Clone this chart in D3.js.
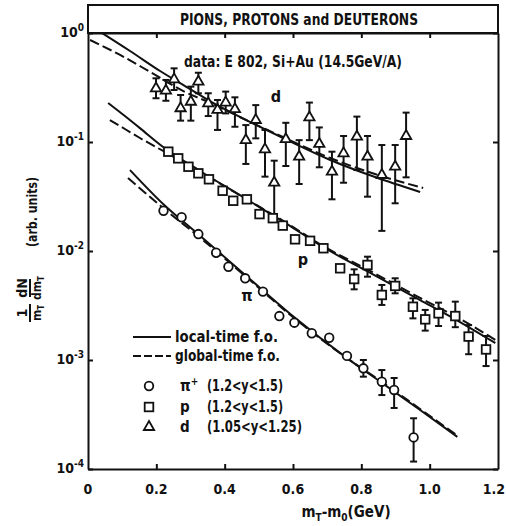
<!DOCTYPE html>
<html><head><meta charset="utf-8">
<script src="https://cdn.jsdelivr.net/npm/d3@7"></script>
<style>
html,body{margin:0;padding:0;background:#fff;}
svg text{font-family:"Liberation Sans Narrow","DejaVu Sans Condensed","Roboto Condensed","Liberation Sans",Arial,sans-serif;fill:#111;}
</style></head>
<body>
<svg id="c" width="506" height="526"></svg>
<script>
// ---------- data ----------
const xLabelValues = [0, 0.2, 0.4, 0.6, 0.8, 1.0, 1.2];
const xLabelTexts  = ["0", "0.2", "0.4", "0.6", "0.8", "1.0", "1.2"];
const xTickValues  = [0.2, 0.4, 0.6, 0.8, 1.0];
const yTickValues  = [1, 0.1, 0.01, 0.001, 0.0001];
const yTickExps    = ["0", "-1", "-2", "-3", "-4"];

// pions (pi+)
const piX = [0.221,0.274,0.323,0.375,0.411,0.460,0.512,0.560,0.604,0.655,0.706,0.758,0.806,0.860,0.896,0.953];
const piY = [0.0234,0.0204,0.0143,0.00964,0.00717,0.00562,0.00424,0.00253,0.00220,0.00176,0.00160,0.00109,0.000839,0.000632,0.000531,0.000195];
const piErrHi = [null,null,null,null,null,null,null,null,null,null,null,null,0.00100,0.000809,0.000684,0.000292];
const piErrLo = [null,null,null,null,null,null,null,null,null,null,null,null,0.000703,0.000477,0.000363,0.000117];

// protons
const pX = [0.235,0.264,0.294,0.323,0.354,0.394,0.425,0.465,0.502,0.541,0.570,0.606,0.650,0.689,0.738,0.779,0.818,0.860,0.899,0.951,0.987,1.026,1.075,1.114,1.165];
const pY = [0.0815,0.0708,0.0593,0.0516,0.0455,0.0357,0.0289,0.0298,0.0218,0.0200,0.0171,0.0128,0.0124,0.0106,0.00694,0.00553,0.00744,0.00395,0.00478,0.00308,0.00236,0.00268,0.00253,0.00164,0.00125];
const pErrHi = [null,null,null,null,null,null,null,null,null,null,null,null,null,null,null,0.00679,0.00887,0.00488,0.00562,0.00368,0.00288,0.00336,0.00343,0.00209,0.00166];
const pErrLo = [null,null,null,null,null,null,null,null,null,null,null,null,null,null,null,0.00445,0.00581,0.00320,0.00409,0.00241,0.00186,0.00205,0.00200,0.00113,0.00088];

// deuterons
const dX = [0.199,0.228,0.252,0.271,0.301,0.323,0.352,0.379,0.403,0.430,0.462,0.491,0.518,0.545,0.579,0.618,0.648,0.677,0.714,0.748,0.787,0.818,0.860,0.899,0.931];
const dY = [0.310,0.296,0.376,0.204,0.234,0.358,0.226,0.197,0.230,0.200,0.104,0.159,0.0857,0.0423,0.106,0.0733,0.168,0.0959,0.0534,0.0787,0.112,0.0733,0.0498,0.0594,0.1135];
const dErrHi = [0.384,0.371,0.474,0.270,0.322,0.432,0.280,0.243,0.290,0.257,0.143,0.218,0.129,0.0674,0.150,0.104,0.230,0.136,0.0815,0.1135,0.171,0.1135,0.0938,0.0938,0.186];
const dErrLo = [0.252,0.239,0.300,0.157,0.157,0.280,0.173,0.129,0.183,0.138,0.0629,0.108,0.0481,0.0192,0.0602,0.0412,0.104,0.0586,0.0298,0.0423,0.0553,0.0315,0.0153,0.0274,0.0474];

// model curves: local-time (solid) and global-time (dashed) freeze-out
const piLocalX  = [0.123,0.220,0.322,0.460,0.603,0.758,0.861,0.972,1.081];
const piLocalY  = [0.0553,0.0270,0.0143,0.00603,0.00248,0.00104,0.000615,0.000348,0.000197];
const piGlobalX = [0.117,0.220,0.322,0.460,0.603,0.758,0.861,0.972,1.075];
const piGlobalY = [0.0468,0.0248,0.01374,0.00590,0.00243,0.00104,0.000628,0.000355,0.000209];

const pLocalX  = [0.059,0.108,0.152,0.220,0.328,0.463,0.577,0.688,0.826,0.972,1.089,1.192];
const pLocalY  = [0.228,0.173,0.134,0.0900,0.0542,0.0300,0.0181,0.01088,0.00629,0.00355,0.00223,0.00143];
const pGlobalX = [0.064,0.108,0.152,0.220,0.328,0.463,0.577,0.688,0.826,0.972,1.089,1.192];
const pGlobalY = [0.159,0.1316,0.1088,0.0827,0.0531,0.0300,0.01845,0.01111,0.00656,0.00371,0.00238,0.00153];

const dLocalX  = [0.041,0.123,0.211,0.299,0.366,0.474,0.583,0.709,0.840,0.972];
const dLocalY  = [1.0,0.684,0.448,0.306,0.228,0.153,0.1043,0.0684,0.0477,0.0348];
const dGlobalX = [0.006,0.094,0.182,0.284,0.366,0.474,0.583,0.709,0.840,0.981];
const dGlobalY = [0.863,0.629,0.439,0.288,0.223,0.153,0.1066,0.0713,0.0508,0.0379];

// ---------- drawing ----------
const svg = d3.select("#c");
const L = 88, R = 498, T = 33, B = 469, BOXTOP = 5;
const x = d3.scaleLinear().domain([0, 1.2]).range([L, R]);
const y = d3.scaleLog().domain([1e-4, 1]).range([B, T]);
const ink = "#111";

// title band
svg.append("rect").attr("x", L).attr("y", BOXTOP).attr("width", R - L).attr("height", T - BOXTOP)
  .attr("fill", "none").attr("stroke", ink).attr("stroke-width", 2);
svg.append("text").attr("x", 299).attr("y", 25).attr("text-anchor", "middle")
  .attr("font-size", 16).attr("font-weight", "bold")
  .attr("textLength", 238).attr("lengthAdjust", "spacingAndGlyphs")
  .text("PIONS, PROTONS and DEUTERONS");

// axes
const axB = d3.axisBottom(x).tickValues(xTickValues).tickSizeInner(-5).tickSizeOuter(0).tickFormat("");
const axT = d3.axisTop(x).tickValues(xTickValues).tickSizeInner(-5).tickSizeOuter(0).tickFormat("");
const axL = d3.axisLeft(y).tickValues(yTickValues).tickSizeInner(-5).tickSizeOuter(0).tickFormat("");
const axR = d3.axisRight(y).tickValues(yTickValues).tickSizeInner(-5).tickSizeOuter(0).tickFormat("");
[[axB, `translate(0,${B})`], [axT, `translate(0,${T})`], [axL, `translate(${L},0)`], [axR, `translate(${R},0)`]]
  .forEach(([a, t]) => {
    const g = svg.append("g").attr("transform", t).call(a);
    g.selectAll("path,line").attr("stroke", ink).attr("stroke-width", 2);
  });

// x tick labels
const lastX = xLabelValues.length - 1;
svg.append("g").selectAll("text").data(xLabelValues).join("text")
  .attr("x", (d, i) => i === lastX ? 505 : x(d))
  .attr("y", 494).attr("text-anchor", (d, i) => i === lastX ? "end" : "middle")
  .attr("font-size", 14).attr("font-weight", "bold")
  .text((d, i) => xLabelTexts[i]);

// y tick labels
const yl = svg.append("g").selectAll("text").data(yTickValues).join("text")
  .attr("x", 84).attr("y", d => y(d) + 4).attr("text-anchor", "end")
  .attr("font-size", 14).attr("font-weight", "bold");
yl.append("tspan").text("10");
yl.append("tspan").attr("dy", -6).attr("font-size", 10).text((d, i) => yTickExps[i]);

// x axis title
const xt = svg.append("text").attr("x", 346).attr("y", 517).attr("text-anchor", "middle")
  .attr("font-size", 15).attr("font-weight", "bold");
xt.append("tspan").text("m");
xt.append("tspan").attr("dy", 4).attr("font-size", 10).text("T");
xt.append("tspan").attr("dy", -4).text("-m");
xt.append("tspan").attr("dy", 4).attr("font-size", 10).text("0");
xt.append("tspan").attr("dy", -4).text("(GeV)");

// y axis title (rotated)
const yg = svg.append("g").attr("transform", "translate(30,300) rotate(-90)");
function frac(cx, num, den, denSub) {
  yg.append("text").attr("x", cx).attr("y", -3).attr("text-anchor", "middle")
    .attr("font-size", 14).attr("font-weight", "bold").text(num);
  yg.append("line").attr("x1", cx - 9).attr("x2", cx + 9).attr("y1", 0).attr("y2", 0)
    .attr("stroke", ink).attr("stroke-width", 2);
  const t = yg.append("text").attr("x", cx).attr("y", 11).attr("text-anchor", "middle")
    .attr("font-size", 12).attr("font-weight", "bold");
  t.append("tspan").text(den);
  t.append("tspan").attr("dy", 3).attr("font-size", 8).text(denSub);
}
frac(-13, "1", "m", "T");
frac(12, "dN", "dm", "T");
yg.append("text").attr("x", 88).attr("y", 7).attr("text-anchor", "middle")
  .attr("font-size", 14).attr("font-weight", "bold")
  .attr("textLength", 70).attr("lengthAdjust", "spacingAndGlyphs")
  .text("(arb. units)");

// data annotation
svg.append("text").attr("x", 293).attr("y", 67).attr("text-anchor", "middle")
  .attr("font-size", 15).attr("font-weight", "bold")
  .attr("textLength", 218).attr("lengthAdjust", "spacingAndGlyphs")
  .text("data: E 802,  Si+Au (14.5GeV/A)");

// curves
const clip = svg.append("clipPath").attr("id", "pc").append("rect")
  .attr("x", L).attr("y", T).attr("width", R - L).attr("height", B - T);
const plot = svg.append("g").attr("clip-path", "url(#pc)");
const line = d3.line().x(d => x(d[0])).y(d => y(d[1])).curve(d3.curveMonotoneX);
function curve(xs, ys, dashed) {
  plot.append("path").datum(xs.map((v, i) => [v, ys[i]])).attr("d", line)
    .attr("fill", "none").attr("stroke", ink).attr("stroke-width", 2)
    .attr("stroke-dasharray", dashed ? "10,4" : null);
}
curve(dLocalX, dLocalY, false); curve(dGlobalX, dGlobalY, true);
curve(pLocalX, pLocalY, false); curve(pGlobalX, pGlobalY, true);
curve(piLocalX, piLocalY, false); curve(piGlobalX, piGlobalY, true);

// error bars + markers
function series(xs, ys, hi, lo, shape) {
  const g = svg.append("g");
  xs.forEach((xv, i) => {
    if (hi[i] != null) {
      const cx = x(xv), y1 = y(hi[i]), y2 = y(lo[i]);
      g.append("line").attr("x1", cx).attr("x2", cx).attr("y1", y1).attr("y2", y2).attr("stroke", ink).attr("stroke-width", 2);
      [y1, y2].forEach(yy => g.append("line").attr("x1", cx - 3.5).attr("x2", cx + 3.5).attr("y1", yy).attr("y2", yy).attr("stroke", ink).attr("stroke-width", 2));
    }
  });
  xs.forEach((xv, i) => drawMarker(g, shape, x(xv), y(ys[i])));
}
function drawMarker(g, shape, cx, cy) {
  if (shape === "circle") {
    g.append("circle").attr("cx", cx).attr("cy", cy).attr("r", 4.3)
      .attr("fill", "#fff").attr("stroke", ink).attr("stroke-width", 1.8);
  } else if (shape === "square") {
    g.append("rect").attr("x", cx - 4.3).attr("y", cy - 4.3).attr("width", 8.6).attr("height", 8.6)
      .attr("fill", "#fff").attr("stroke", ink).attr("stroke-width", 1.8);
  } else {
    g.append("path").attr("d", d3.symbol().type(d3.symbolTriangle).size(46)())
      .attr("transform", `translate(${cx},${cy})`)
      .attr("fill", "#fff").attr("stroke", ink).attr("stroke-width", 1.8);
  }
}
series(dX, dY, dErrHi, dErrLo, "triangle");
series(pX, pY, pErrHi, pErrLo, "square");
series(piX, piY, piErrHi, piErrLo, "circle");

// series labels
svg.append("text").attr("x", 276).attr("y", 102).attr("text-anchor", "middle").attr("font-size", 16).attr("font-weight", "bold").text("d");
svg.append("text").attr("x", 303).attr("y", 265).attr("text-anchor", "middle").attr("font-size", 16).attr("font-weight", "bold").text("p");
svg.append("text").attr("x", 247).attr("y", 301).attr("text-anchor", "middle").attr("font-size", 16).attr("font-weight", "bold").text("π");

// legend
const lg = svg.append("g");
lg.append("line").attr("x1", 133).attr("x2", 171).attr("y1", 337).attr("y2", 337).attr("stroke", ink).attr("stroke-width", 2);
lg.append("line").attr("x1", 133).attr("x2", 171).attr("y1", 356).attr("y2", 356).attr("stroke", ink).attr("stroke-width", 2).attr("stroke-dasharray", "8,3");
lg.append("text").attr("x", 175).attr("y", 342).attr("font-size", 15).attr("font-weight", "bold")
  .attr("textLength", 103).attr("lengthAdjust", "spacingAndGlyphs").text("local-time f.o.");
lg.append("text").attr("x", 175).attr("y", 361).attr("font-size", 15).attr("font-weight", "bold")
  .attr("textLength", 105).attr("lengthAdjust", "spacingAndGlyphs").text("global-time f.o.");
const rows = [["circle", "π", "+", "(1.2<y<1.5)", 386, 76], ["square", "p", "", "(1.2<y<1.5)", 407, 76], ["triangle", "d", "", "(1.05<y<1.25)", 427, 95]];
rows.forEach(([shape, sym, sup, rng, ry, w]) => {
  drawMarker(lg, shape, 149, ry);
  const t = lg.append("text").attr("x", 180).attr("y", ry + 5).attr("font-size", 15).attr("font-weight", "bold");
  t.append("tspan").text(sym);
  if (sup) t.append("tspan").attr("dy", -6).attr("font-size", 10).text(sup);
  lg.append("text").attr("x", 207).attr("y", ry + 5).attr("font-size", 15).attr("font-weight", "bold")
    .attr("textLength", w).attr("lengthAdjust", "spacingAndGlyphs").text(rng);
});
</script>
</body></html>
